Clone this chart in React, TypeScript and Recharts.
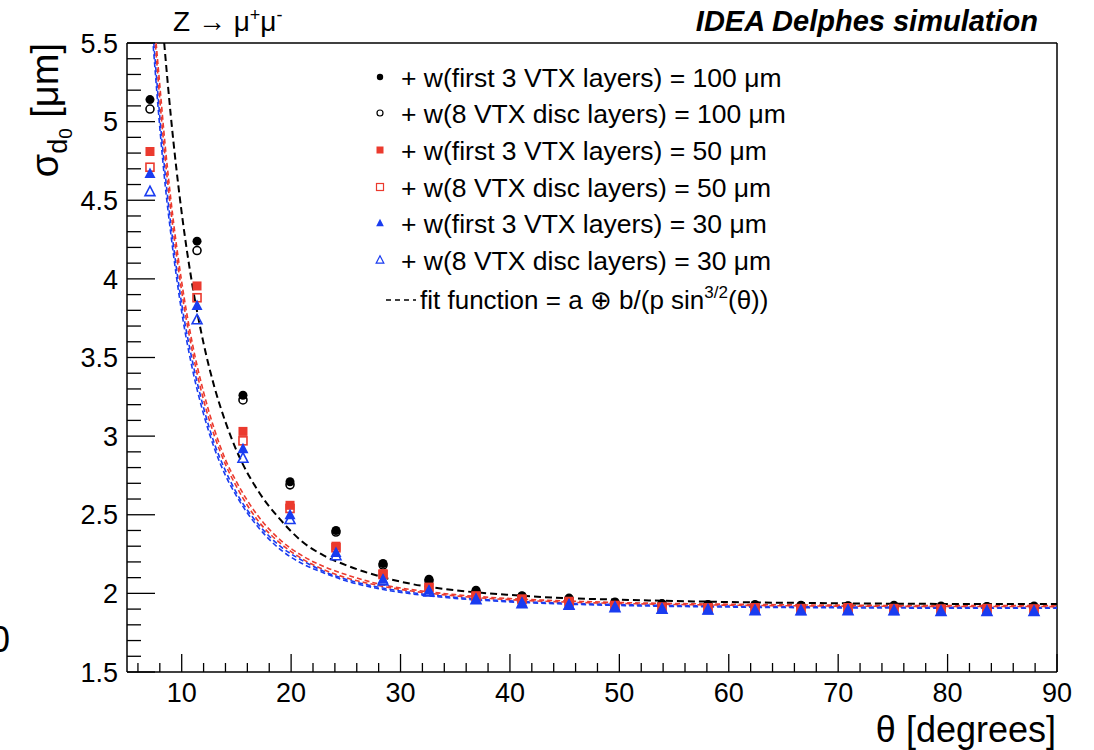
import React from 'react';
import { ComposedChart, Line, Scatter, XAxis, YAxis, ReferenceLine } from 'recharts';

// bin centres in theta [degrees]
const thetaBins = [7.1, 11.4, 15.6, 19.9, 24.1, 28.4, 32.6, 36.9, 41.1, 45.4, 49.6, 53.9, 58.1, 62.4, 66.6, 70.9, 75.1, 79.4, 83.6, 87.9];

// sigma_d0 [um]
const first3w100 = [5.14, 4.24, 3.26, 2.71, 2.40, 2.19, 2.09, 2.02, 1.985, 1.97, 1.945, 1.935, 1.93, 1.93, 1.925, 1.92, 1.925, 1.92, 1.915, 1.92];
const disc8w100 = [5.08, 4.18, 3.23, 2.69, 2.39, 2.18, 2.08, 2.01, 1.98, 1.965, 1.94, 1.93, 1.925, 1.92, 1.92, 1.92, 1.915, 1.91, 1.915, 1.91];
const first3w50 = [4.81, 3.955, 3.03, 2.56, 2.30, 2.125, 2.04, 1.985, 1.965, 1.95, 1.925, 1.915, 1.91, 1.91, 1.905, 1.91, 1.905, 1.90, 1.905, 1.90];
const disc8w50 = [4.71, 3.88, 2.97, 2.54, 2.29, 2.12, 2.035, 1.98, 1.96, 1.945, 1.92, 1.91, 1.905, 1.905, 1.90, 1.905, 1.90, 1.90, 1.90, 1.90];
const first3w30 = [4.67, 3.83, 2.92, 2.50, 2.26, 2.09, 2.02, 1.965, 1.94, 1.93, 1.915, 1.90, 1.895, 1.895, 1.89, 1.895, 1.89, 1.885, 1.89, 1.885];
const disc8w30 = [4.555, 3.74, 2.86, 2.47, 2.24, 2.08, 2.01, 1.96, 1.935, 1.925, 1.91, 1.90, 1.895, 1.89, 1.89, 1.89, 1.89, 1.885, 1.885, 1.885];

// fit curves
const fitThetaBlack = [8.4, 8.5, 9, 10, 11, 12, 13, 14, 15, 17, 19, 21, 23, 25, 28, 31, 35, 40, 45, 50, 60, 70, 80, 90];
const fitBlack = [5.50, 5.42, 5.04, 4.42, 3.95, 3.59, 3.31, 3.09, 2.91, 2.65, 2.47, 2.33, 2.24, 2.18, 2.11, 2.06, 2.02, 1.99, 1.97, 1.96, 1.945, 1.937, 1.933, 1.932];
const fitThetaRed1 = [7.66, 8, 8.5, 9, 10, 11, 12, 13, 14, 15, 17, 19, 21, 23, 25, 28, 31, 35, 40, 45, 50, 60, 70, 80, 90];
const fitRed1 = [5.50, 5.23, 4.84, 4.51, 3.98, 3.58, 3.28, 3.04, 2.85, 2.71, 2.49, 2.34, 2.24, 2.17, 2.12, 2.06, 2.024, 1.992, 1.967, 1.952, 1.942, 1.931, 1.925, 1.922, 1.922];
const fitThetaRed2 = [7.6, 8, 8.5, 9, 10, 11, 12, 13, 14, 15, 17, 19, 21, 23, 25, 28, 31, 35, 40, 45, 50, 60, 70, 80, 90];
const fitRed2 = [5.49, 5.14, 4.76, 4.44, 3.92, 3.53, 3.23, 3.00, 2.82, 2.68, 2.46, 2.32, 2.22, 2.15, 2.10, 2.05, 2.015, 1.984, 1.960, 1.945, 1.936, 1.925, 1.919, 1.917, 1.916];
const fitThetaBlue1 = [7.45, 8, 8.5, 9, 10, 11, 12, 13, 14, 15, 17, 19, 21, 23, 25, 28, 31, 35, 40, 45, 50, 60, 70, 80, 90];
const fitBlue1 = [5.50, 5.03, 4.66, 4.35, 3.84, 3.47, 3.18, 2.95, 2.78, 2.64, 2.44, 2.30, 2.21, 2.14, 2.09, 2.039, 2.005, 1.975, 1.952, 1.938, 1.929, 1.919, 1.914, 1.911, 1.910];
const fitThetaBlue2 = [7.4, 8, 8.5, 9, 10, 11, 12, 13, 14, 15, 17, 19, 21, 23, 25, 28, 31, 35, 40, 45, 50, 60, 70, 80, 90];
const fitBlue2 = [5.48, 4.96, 4.59, 4.29, 3.79, 3.42, 3.14, 2.92, 2.75, 2.62, 2.42, 2.28, 2.19, 2.13, 2.08, 2.030, 1.997, 1.968, 1.946, 1.932, 1.923, 1.913, 1.908, 1.906, 1.905];

const legendLabels = [
  '+ w(first 3 VTX layers) = 100 \u03bcm',
  '+ w(8 VTX disc layers) = 100 \u03bcm',
  '+ w(first 3 VTX layers) = 50 \u03bcm',
  '+ w(8 VTX disc layers) = 50 \u03bcm',
  '+ w(first 3 VTX layers) = 30 \u03bcm',
  '+ w(8 VTX disc layers) = 30 \u03bcm',
];

const RED = '#eb3a2e';
const BLUE = '#1a3cf0';
const FONT = '"Liberation Sans", Arial, Helvetica, sans-serif';

const pts = (xs: number[], ys: number[]) => xs.map((x, i) => ({ x, y: ys[i] }));

const yTicks: number[] = [];
for (let i = 15; i <= 55; i++) yTicks.push(i / 10);
const xTicks: number[] = [];
for (let i = 6; i <= 90; i += 2) xTicks.push(i);

const YTick = (props: any) => {
  const { x, y, payload } = props;
  const v = payload.value;
  const major = Math.abs(v * 2 - Math.round(v * 2)) < 1e-6;
  return (
    <g>
      <line x1={x} x2={x + (major ? 28 : 14)} y1={y} y2={y} stroke="#000" strokeWidth={1.3} />
      {major && (
        <text x={x - 9} y={y} dy="0.36em" textAnchor="end" fontSize={27} fontFamily={FONT} fill="#000">
          {String(Math.round(v * 10) / 10)}
        </text>
      )}
    </g>
  );
};

const XTick = (props: any) => {
  const { x, y, payload } = props;
  const v = payload.value;
  const major = v % 10 === 0;
  return (
    <g>
      <line x1={x} x2={x} y1={y} y2={y - (major ? 18 : 9)} stroke="#000" strokeWidth={1.3} />
      {major && (
        <text x={x} y={y + 30} textAnchor="middle" fontSize={27} fontFamily={FONT} fill="#000">
          {v}
        </text>
      )}
    </g>
  );
};

const triPath = (cx: number, cy: number, s: number) =>
  `M${cx},${cy - s * 0.6} L${cx + s * 0.55},${cy + s * 0.45} L${cx - s * 0.55},${cy + s * 0.45} Z`;

const shapes = {
  dotFilled: (p: any) => <circle cx={p.cx} cy={p.cy} r={4.5} fill="#000" />,
  dotOpen: (p: any) => <circle cx={p.cx} cy={p.cy} r={4} fill="none" stroke="#000" strokeWidth={1.6} />,
  sqFilled: (p: any) => <rect x={p.cx - 4.5} y={p.cy - 4.5} width={9} height={9} fill={RED} />,
  sqOpen: (p: any) => <rect x={p.cx - 4} y={p.cy - 4} width={8} height={8} fill="none" stroke={RED} strokeWidth={1.6} />,
  triFilled: (p: any) => <path d={triPath(p.cx, p.cy, 10)} fill={BLUE} />,
  triOpen: (p: any) => <path d={triPath(p.cx, p.cy, 9)} fill="none" stroke={BLUE} strokeWidth={1.6} />,
};

const legendMarkers = [
  (cx: number, cy: number) => <circle cx={cx} cy={cy} r={3.2} fill="#000" />,
  (cx: number, cy: number) => <circle cx={cx} cy={cy} r={3} fill="none" stroke="#000" strokeWidth={1.2} />,
  (cx: number, cy: number) => <rect x={cx - 3.5} y={cy - 3.5} width={7} height={7} fill={RED} />,
  (cx: number, cy: number) => <rect x={cx - 3.5} y={cy - 3.5} width={7} height={7} fill="none" stroke={RED} strokeWidth={1.2} />,
  (cx: number, cy: number) => <path d={triPath(cx, cy, 7)} fill={BLUE} />,
  (cx: number, cy: number) => <path d={triPath(cx, cy, 7)} fill="none" stroke={BLUE} strokeWidth={1.2} />,
];
const legendY = [77, 113, 150, 187, 223, 260];

export default function App() {
  const scatters = [
    { data: first3w100, shape: shapes.dotFilled },
    { data: disc8w100, shape: shapes.dotOpen },
    { data: first3w50, shape: shapes.sqFilled },
    { data: disc8w50, shape: shapes.sqOpen },
    { data: first3w30, shape: shapes.triFilled },
    { data: disc8w30, shape: shapes.triOpen },
  ];
  return (
    <div style={{ position: 'absolute', left: 0, top: 0, width: 1094, height: 750, background: '#fff', fontFamily: FONT }}>
      <ComposedChart width={1094} height={750} margin={{ top: 43, right: 37, bottom: 0, left: 0 }}>
        <XAxis
          type="number"
          dataKey="x"
          domain={[5, 90]}
          ticks={xTicks}
          interval={0}
          allowDataOverflow
          tickSize={0}
          tickMargin={0}
          tick={<XTick />}
          height={78}
          axisLine={{ stroke: '#000', strokeWidth: 1.5 }}
          tickLine={false}
        />
        <YAxis
          type="number"
          dataKey="y"
          domain={[1.5, 5.5]}
          ticks={yTicks}
          interval={0}
          allowDataOverflow
          tickSize={0}
          tickMargin={0}
          tick={<YTick />}
          width={127}
          axisLine={{ stroke: '#000', strokeWidth: 1.5 }}
          tickLine={false}
        />
        <ReferenceLine y={5.5} stroke="#000" strokeWidth={1.5} />
        <ReferenceLine x={90} stroke="#000" strokeWidth={1.5} />
        <Line data={pts(fitThetaBlue2, fitBlue2)} dataKey="y" type="monotone" stroke={BLUE} strokeWidth={1.6} strokeDasharray="5 3" dot={false} isAnimationActive={false} />
        <Line data={pts(fitThetaBlue1, fitBlue1)} dataKey="y" type="monotone" stroke={BLUE} strokeWidth={1.6} strokeDasharray="5 3" dot={false} isAnimationActive={false} />
        <Line data={pts(fitThetaRed2, fitRed2)} dataKey="y" type="monotone" stroke={RED} strokeWidth={1.6} strokeDasharray="5 3" dot={false} isAnimationActive={false} />
        <Line data={pts(fitThetaRed1, fitRed1)} dataKey="y" type="monotone" stroke={RED} strokeWidth={1.6} strokeDasharray="5 3" dot={false} isAnimationActive={false} />
        <Line data={pts(fitThetaBlack, fitBlack)} dataKey="y" type="monotone" stroke="#000" strokeWidth={2} strokeDasharray="7 4" dot={false} isAnimationActive={false} />
        {scatters.map((s, i) => (
          <Scatter key={i} data={pts(thetaBins, s.data)} dataKey="y" shape={s.shape} isAnimationActive={false} />
        ))}
      </ComposedChart>

      <svg width={1094} height={750} style={{ position: 'absolute', left: 0, top: 0, pointerEvents: 'none' }} fontFamily={FONT}>
        <text x={173} y={31} fontSize={28} fill="#000">
          Z {'\u2192'} {'\u03bc'}
          <tspan dy={-10} fontSize={18}>+</tspan>
          <tspan dy={10} fontSize={28}>{'\u03bc'}</tspan>
          <tspan dy={-10} fontSize={18}>-</tspan>
        </text>
        <text x={1038} y={31} fontSize={29} fontWeight="bold" fontStyle="italic" textAnchor="end" fill="#000">
          IDEA Delphes simulation
        </text>
        <text transform="translate(58,43) rotate(-90)" textAnchor="end" fontSize={38} fill="#000">
          {'\u03c3'}
          <tspan dy={9} fontSize={27}>d</tspan>
          <tspan dy={5} fontSize={19}>0</tspan>
          <tspan dy={-14} fontSize={38}> [{'\u03bc'}m]</tspan>
        </text>
        <text x={1056} y={742} textAnchor="end" fontSize={36} fill="#000">
          {'\u03b8'} [degrees]
        </text>
        <text x={-10} y={652} fontSize={36} fill="#000">0</text>

        {legendLabels.map((l, i) => (
          <g key={l}>
            {legendMarkers[i](380, legendY[i])}
            <text x={401} y={legendY[i]} dy="0.36em" fontSize={26.5} fill="#000">{l}</text>
          </g>
        ))}
        <line x1={386} x2={416} y1={300} y2={300} stroke="#000" strokeWidth={1.5} strokeDasharray="5 4" />
        <text x={420} y={300} dy="0.36em" fontSize={26} fill="#000">
          fit function = a {'\u2295'} b/(p sin
          <tspan dy={-11} fontSize={17}>3/2</tspan>
          <tspan dy={11} fontSize={26}>({'\u03b8'}))</tspan>
        </text>
      </svg>
    </div>
  );
}
